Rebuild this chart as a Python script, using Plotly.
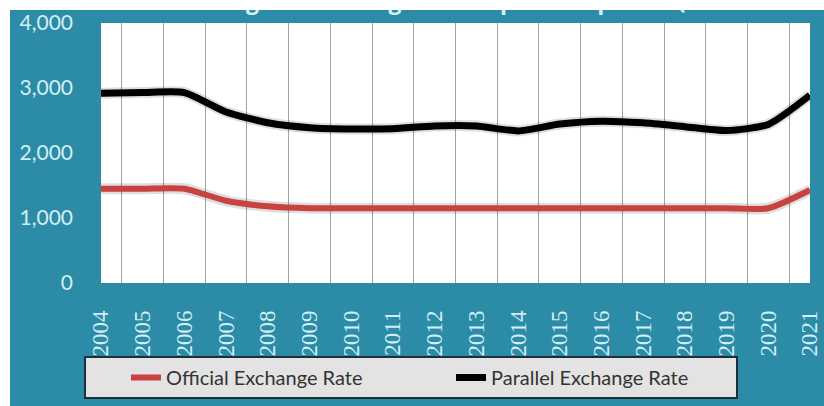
import plotly.graph_objects as go

# Exchange rates (IQD per USD), 2004-2021
years = [str(y) for y in range(2004, 2022)]
official_rate = [1450, 1450, 1450, 1265, 1180, 1150, 1150, 1150, 1150, 1150,
                 1150, 1150, 1150, 1150, 1150, 1150, 1150, 1430]
parallel_rate = [2920, 2930, 2930, 2630, 2465, 2390, 2370, 2375, 2415, 2415,
                 2340, 2445, 2490, 2465, 2405, 2345, 2440, 2890]
y_ticks = [0, 1000, 2000, 3000, 4000]
title_text = "Exchange rate changes in Iraq for the period (2004"

W, H = 824, 406
EDGE = 10                      # white page border on top and left
WI, HI = W - EDGE, H - EDGE    # teal chart area
TEAL = "#2c8ba6"
LABEL = "#d3eff6"
SMOOTH = 0.6


def px_x(x):
    """page x (px) -> fraction of the teal area"""
    return (x - EDGE) / WI


def px_y(y):
    """page y (px from top) -> fraction of the teal area, from the bottom"""
    return (H - y) / HI


fig = go.Figure()

# soft shadow under each line
for vals in (official_rate, parallel_rate):
    fig.add_trace(go.Scatter(
        x=years, y=vals, mode="lines",
        line=dict(color="rgba(0,0,0,0.13)", width=11, shape="spline", smoothing=SMOOTH),
        showlegend=False, hoverinfo="skip"))

fig.add_trace(go.Scatter(
    x=years, y=official_rate, mode="lines", name="Official Exchange Rate",
    line=dict(color="#c8423f", width=6, shape="spline", smoothing=SMOOTH)))
fig.add_trace(go.Scatter(
    x=years, y=parallel_rate, mode="lines", name="Parallel Exchange Rate",
    line=dict(color="#000000", width=7, shape="spline", smoothing=SMOOTH)))

# chart title on a pixel-unit overlay subplot; its top edge clips the text
fig.add_trace(go.Scatter(
    x=[451], y=[H - 3], mode="text", text=[title_text], textposition="middle center",
    textfont=dict(family="Open Sans", size=23, color="#d6f1f7", weight="bold"),
    xaxis="x2", yaxis="y2", showlegend=False, hoverinfo="skip", cliponaxis=True))

fig.update_layout(
    width=W, height=H,
    margin=dict(l=EDGE, r=0, t=EDGE, b=0, autoexpand=False),
    paper_bgcolor="white",
    plot_bgcolor="rgba(0,0,0,0)",
    xaxis=dict(
        domain=[px_x(101), px_x(810)], type="category", tickson="boundaries",
        showgrid=True, gridcolor="#a3a3a3", gridwidth=1,
        ticks="", tickangle=-90, ticklabelstandoff=22, automargin=False,
        tickfont=dict(family="Liberation Serif", size=23, color=LABEL),
        showline=False, zeroline=False, fixedrange=True),
    yaxis=dict(
        domain=[px_y(283), px_y(23)], range=[0, 4000],
        tickvals=y_ticks, tickformat=",", showgrid=False, zeroline=False,
        ticks="", ticklabelstandoff=27, automargin=False,
        tickfont=dict(family="Lato", size=21, color=LABEL), fixedrange=True),
    xaxis2=dict(domain=[0, 1], range=[EDGE, W], visible=False, anchor="y2",
                automargin=False, fixedrange=True),
    yaxis2=dict(domain=[0, 1], range=[0, HI], visible=False,
                anchor="x2", automargin=False, fixedrange=True),
    legend=dict(
        orientation="h", x=px_x(84), xanchor="left", y=px_y(356), yanchor="top",
        bgcolor="#e3e3e3", bordercolor="#1d2f37", borderwidth=2,
        font=dict(family="Lato", size=20, color="#333333"),
        indentation=40, entrywidth=240, entrywidthmode="pixels",
        itemclick=False, itemdoubleclick=False),
    shapes=[
        # teal chart background
        dict(type="rect", xref="paper", yref="paper", x0=0, x1=1, y0=0, y1=1,
             fillcolor=TEAL, line_width=0, layer="below"),
        # white plot area
        dict(type="rect", xref="x domain", yref="y domain", x0=0, x1=1, y0=0, y1=1,
             fillcolor="white", line_width=0, layer="below"),
    ],
    showlegend=True,
)

fig.write_html("out.html")
